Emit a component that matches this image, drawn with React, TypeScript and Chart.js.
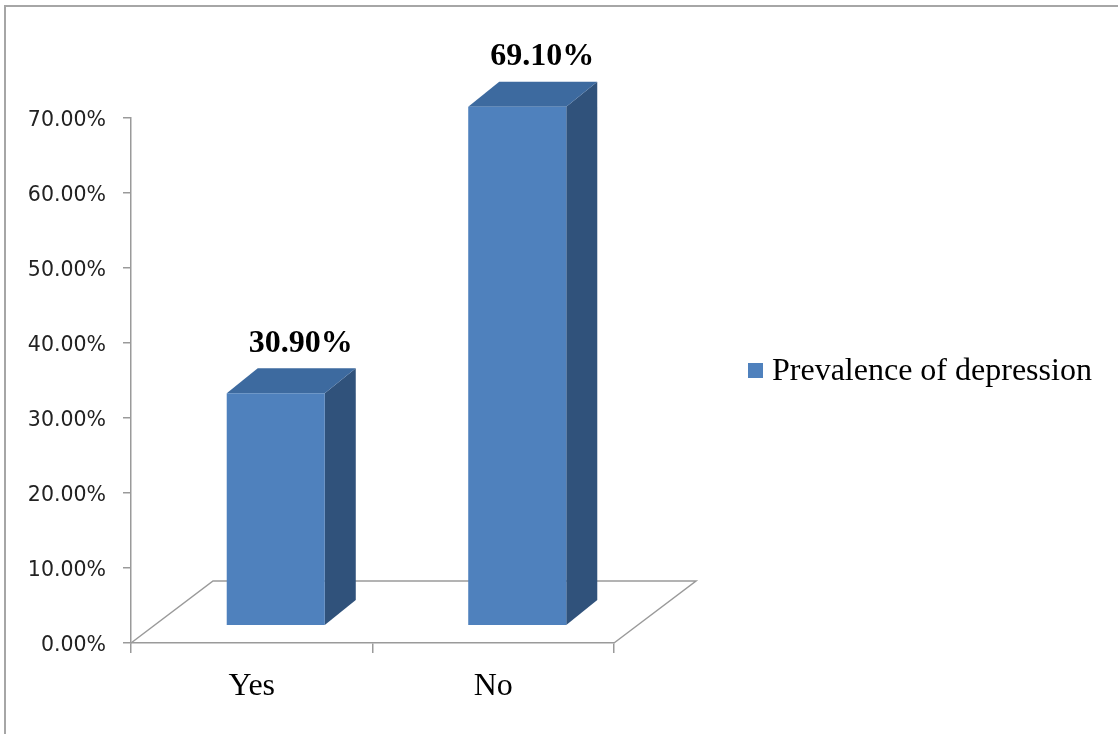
import React, { useEffect, useRef } from "react";
import { Chart, registerables } from "chart.js";

Chart.register(...registerables);

// ---- data ----
const categories = ["Yes", "No"];
const prevalence = [30.9, 69.1];
const seriesLabel = "Prevalence of depression";
const yMin = 0;
const yMax = 70;
const yStep = 10;

// ---- styles ----
const W = 1118;
const H = 734;
const FRONT = "#4F81BD";
const TOP = "#3D6A9F";
const SIDE = "#30527B";
const AXIS = "#9A9A9A";
const FLOOR_DX = 82;
const FLOOR_DY = 62;
const BAR_OFF_X = 24;
const BAR_OFF_Y = 18;
const BAR_DX = 31;
const BAR_DY = 25;
const SERIF = "'Liberation Serif', 'Times New Roman', serif";

const bar3d = {
  id: "bar3d",
  beforeDraw(chart: any) {
    const { ctx, chartArea } = chart;
    const { left, right, bottom } = chartArea;
    ctx.save();
    ctx.fillStyle = "#fff";
    ctx.fillRect(0, 0, W, H);
    // outer frame
    ctx.strokeStyle = "#A6A6A6";
    ctx.lineWidth = 2;
    ctx.beginPath();
    ctx.moveTo(5, H + 4);
    ctx.lineTo(5, 6);
    ctx.lineTo(W + 4, 6);
    ctx.stroke();
    // floor
    ctx.strokeStyle = AXIS;
    ctx.lineWidth = 1.5;
    ctx.beginPath();
    ctx.moveTo(left, bottom);
    ctx.lineTo(left + FLOOR_DX, bottom - FLOOR_DY);
    ctx.lineTo(right + FLOOR_DX, bottom - FLOOR_DY);
    ctx.lineTo(right, bottom);
    ctx.stroke();
    ctx.restore();
  },
  afterDatasetsDraw(chart: any) {
    const ctx = chart.ctx;
    const meta = chart.getDatasetMeta(0);
    const ys = chart.scales.y;
    const data = chart.data.datasets[0].data as number[];
    ctx.save();
    meta.data.forEach((el: any, i: number) => {
      const v = data[i];
      const w = el.width;
      const x0 = el.x - w / 2 + BAR_OFF_X;
      const x1 = el.x + w / 2 + BAR_OFF_X;
      const yb = ys.getPixelForValue(0) - BAR_OFF_Y;
      const yt = ys.getPixelForValue(v) - BAR_OFF_Y;
      // side
      ctx.fillStyle = SIDE;
      ctx.beginPath();
      ctx.moveTo(x1, yt);
      ctx.lineTo(x1 + BAR_DX, yt - BAR_DY);
      ctx.lineTo(x1 + BAR_DX, yb - BAR_DY);
      ctx.lineTo(x1, yb);
      ctx.closePath();
      ctx.fill();
      // top
      ctx.fillStyle = TOP;
      ctx.beginPath();
      ctx.moveTo(x0, yt);
      ctx.lineTo(x0 + BAR_DX, yt - BAR_DY);
      ctx.lineTo(x1 + BAR_DX, yt - BAR_DY);
      ctx.lineTo(x1, yt);
      ctx.closePath();
      ctx.fill();
      // front
      ctx.fillStyle = FRONT;
      ctx.fillRect(x0, yt, x1 - x0, yb - yt);
      // value label
      ctx.fillStyle = "#000";
      ctx.font = "bold 32px " + SERIF;
      ctx.textAlign = "center";
      ctx.textBaseline = "middle";
      ctx.fillText(v.toFixed(2) + "%", el.x + BAR_OFF_X + 25, yt - 50);
    });
    ctx.restore();
  },
  afterDraw(chart: any) {
    const ctx = chart.ctx;
    const ds = chart.data.datasets[0];
    ctx.save();
    ctx.fillStyle = ds.legendColor || FRONT;
    ctx.fillRect(748, 363, 15, 15);
    ctx.fillStyle = "#000";
    ctx.font = "32px " + SERIF;
    ctx.textAlign = "left";
    ctx.textBaseline = "middle";
    ctx.fillText(ds.label, 772, 372);
    ctx.restore();
  },
};

export default function App() {
  const ref = useRef<HTMLCanvasElement | null>(null);
  useEffect(() => {
    if (!ref.current) return;
    const chart = new Chart(ref.current, {
      type: "bar",
      data: {
        labels: categories,
        datasets: [
          {
            label: seriesLabel,
            data: prevalence,
            backgroundColor: "rgba(0,0,0,0)",
            borderWidth: 0,
            categoryPercentage: 1,
            barPercentage: 0.406,
            legendColor: FRONT,
          } as any,
        ],
      },
      options: {
        animation: false,
        responsive: false,
        layout: { padding: { left: 0, top: 118, right: W - 614, bottom: 0 } },
        plugins: { legend: { display: false }, tooltip: { enabled: false } },
        scales: {
          x: {
            offset: true,
            grid: {
              display: true,
              offset: true,
              drawOnChartArea: false,
              drawTicks: true,
              tickLength: 10,
              color: AXIS,
              lineWidth: 1.5,
            },
            border: { display: true, color: AXIS, width: 1.5 },
            ticks: {
              color: "#000",
              padding: 14,
              font: { family: SERIF, size: 32 },
            },
            afterFit: (s: any) => {
              s.height = H - 643;
            },
          },
          y: {
            min: yMin,
            max: yMax,
            ticks: {
              stepSize: yStep,
              color: "#222",
              padding: 17,
              labelOffset: 3,
              font: { family: "'DejaVu Sans', sans-serif", size: 20.5 },
              callback: (v: any) => Number(v).toFixed(2) + "%",
            },
            grid: {
              display: true,
              drawOnChartArea: false,
              drawTicks: true,
              tickLength: 8,
              color: AXIS,
              lineWidth: 1.5,
            },
            border: { display: true, color: AXIS, width: 1.5 },
            afterFit: (s: any) => {
              s.width = 131;
            },
          },
        },
      },
      plugins: [bar3d],
    });
    return () => chart.destroy();
  }, []);
  return (
    <div style={{ position: "absolute", left: 0, top: 0, width: W, height: H }}>
      <canvas ref={ref} width={W} height={H} style={{ width: W, height: H, display: "block" }} />
    </div>
  );
}
